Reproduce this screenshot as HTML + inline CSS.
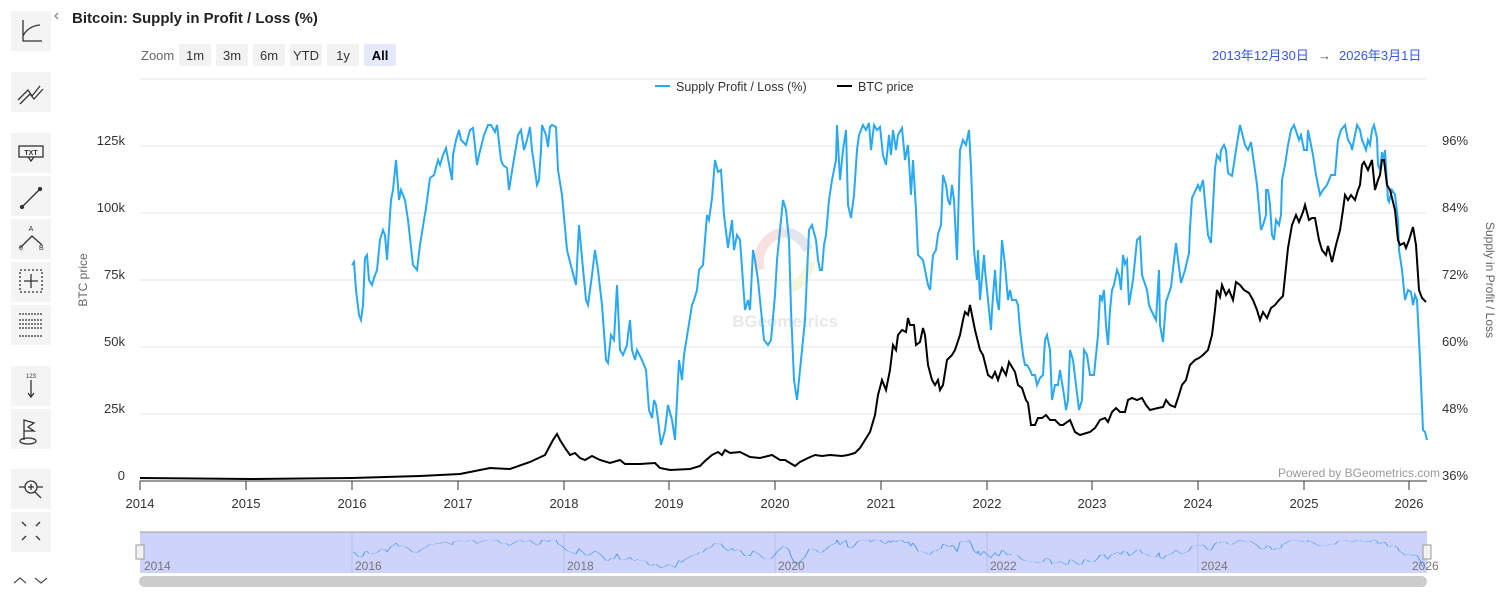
<!DOCTYPE html>
<html><head><meta charset="utf-8"><style>
body{margin:0;background:#fff;font-family:"Liberation Sans","Noto Sans CJK SC",sans-serif;}
svg{display:block}
</style></head><body>
<svg width="1509" height="593" xmlns="http://www.w3.org/2000/svg" font-family="Liberation Sans, Noto Sans CJK SC, sans-serif">
<rect width="1509" height="593" fill="#fff"/>
<g fill="#f4f4f4">
<rect x="11" y="11" width="40" height="40"/><rect x="11" y="72" width="40" height="40"/>
<rect x="11" y="133" width="40" height="40"/><rect x="11" y="176" width="40" height="40"/>
<rect x="11" y="219" width="40" height="40"/><rect x="11" y="262" width="40" height="40"/>
<rect x="11" y="305" width="40" height="40"/><rect x="11" y="366" width="40" height="40"/>
<rect x="11" y="409" width="40" height="40"/><rect x="11" y="469" width="40" height="40"/>
<rect x="11" y="512" width="40" height="40"/>
</g>
<g stroke="#333" fill="none" stroke-width="1.3">
<path d="M23 20 V41 H42 M23 36 Q28 26 40 25"/>
<path d="M18 100 L28 90 L32 96 L40 86 M20 104 L30 94 L34 99 L43 89"/>
<rect x="19" y="146" width="24" height="11"/><path d="M28 157 L31 161 L34 157"/>
<path d="M22 207 L40 189"/><circle cx="22" cy="207" r="1.5" fill="#333"/><circle cx="40" cy="189" r="1.5" fill="#333"/>
<path d="M20 248 L32 236 L42 245"/>
<rect x="20" y="270" width="22" height="22" stroke-dasharray="2,2"/><path d="M31 274 V288 M24 281 H38"/>
<path d="M19 314 H43 M19 336 H43 M19 320 H43 M19 324 H43 M19 328 H43" stroke-dasharray="2,1"/>
<path d="M31 380 V396 M28 393 L31 397 L34 393"/>
<path d="M24 440 V420 L34 423 L28 427 L34 431 L24 431"/><ellipse cx="28" cy="441" rx="8" ry="3"/>
<circle cx="31" cy="487" r="6"/><path d="M28 487 H34 M31 484 V490 M35 492 L41 498 M19 487 H25 M37 487 H43"/>
<path d="M22 522 L26 526 M40 522 L36 526 M22 540 L26 536 M40 540 L36 536"/>
<path d="M14 583 L20 578 L26 583 M35 578 L41 583 L47 578" stroke="#555"/>
<path d="M58 13 L55 16 L58 19" stroke="#888"/>
</g>
<text x="25" y="155" font-size="7" font-weight="bold" fill="#333" text-anchor="middle" dx="6">TXT</text>
<text x="31" y="231" font-size="7" fill="#333" text-anchor="middle">A</text>
<text x="19" y="250" font-size="7" fill="#333">0</text><text x="39" y="250" font-size="7" fill="#333">B</text>
<text x="31" y="378" font-size="6" fill="#333" text-anchor="middle">123</text>
<text x="72" y="23" font-size="15" font-weight="bold" fill="#222">Bitcoin: Supply in Profit / Loss (%)</text>
<text x="141" y="60" font-size="13" fill="#666">Zoom</text>
<g fill="#f2f2f2"><rect x="179" y="44" width="32" height="22" rx="2"/><rect x="216" y="44" width="32" height="22" rx="2"/><rect x="253" y="44" width="32" height="22" rx="2"/><rect x="290" y="44" width="32" height="22" rx="2"/><rect x="327" y="44" width="32" height="22" rx="2"/></g>
<rect x="364" y="44" width="32" height="22" rx="2" fill="#e6e9fd"/>
<g font-size="13" fill="#333" text-anchor="middle"><text x="195" y="60">1m</text><text x="232" y="60">3m</text><text x="269" y="60">6m</text><text x="306" y="60">YTD</text><text x="343" y="60">1y</text><text x="380" y="60" font-weight="bold" fill="#000">All</text></g>
<text x="1212" y="60" font-size="13" fill="#3355ff">2013年12月30日</text>
<text x="1318" y="60" font-size="13" fill="#555">→</text>
<text x="1339" y="60" font-size="13" fill="#3355ff">2026年3月1日</text>
<line x1="140" y1="79" x2="1427" y2="79" stroke="#e3e3e3"/>
<line x1="655" y1="86" x2="670" y2="86" stroke="#29a8f5" stroke-width="2"/>
<text x="676" y="91" font-size="12.5" fill="#333">Supply Profit / Loss (%)</text>
<line x1="837" y1="86" x2="852" y2="86" stroke="#000" stroke-width="2"/>
<text x="858" y="91" font-size="12.5" fill="#333">BTC price</text>
<g stroke="#e6e6e6"><line x1="140" y1="146" x2="1427" y2="146"/><line x1="140" y1="213" x2="1427" y2="213"/><line x1="140" y1="280" x2="1427" y2="280"/><line x1="140" y1="347" x2="1427" y2="347"/><line x1="140" y1="414" x2="1427" y2="414"/></g>
<line x1="140" y1="481" x2="1427" y2="481" stroke="#333"/>
<g stroke="#333"><line x1="140" y1="481" x2="140" y2="490"/><line x1="246" y1="481" x2="246" y2="490"/><line x1="352" y1="481" x2="352" y2="490"/><line x1="458" y1="481" x2="458" y2="490"/><line x1="564" y1="481" x2="564" y2="490"/><line x1="669" y1="481" x2="669" y2="490"/><line x1="775" y1="481" x2="775" y2="490"/><line x1="881" y1="481" x2="881" y2="490"/><line x1="987" y1="481" x2="987" y2="490"/><line x1="1092" y1="481" x2="1092" y2="490"/><line x1="1198" y1="481" x2="1198" y2="490"/><line x1="1304" y1="481" x2="1304" y2="490"/><line x1="1409" y1="481" x2="1409" y2="490"/></g>
<g font-size="13" fill="#333" text-anchor="middle"><text x="140" y="508">2014</text><text x="246" y="508">2015</text><text x="352" y="508">2016</text><text x="458" y="508">2017</text><text x="564" y="508">2018</text><text x="669" y="508">2019</text><text x="775" y="508">2020</text><text x="881" y="508">2021</text><text x="987" y="508">2022</text><text x="1092" y="508">2023</text><text x="1198" y="508">2024</text><text x="1304" y="508">2025</text><text x="1409" y="508">2026</text></g>
<g font-size="13" fill="#333" text-anchor="end"><text x="125" y="145">125k</text><text x="125" y="212">100k</text><text x="125" y="279">75k</text><text x="125" y="346">50k</text><text x="125" y="413">25k</text><text x="125" y="480">0</text></g>
<g font-size="13" fill="#333"><text x="1442" y="145">96%</text><text x="1442" y="212">84%</text><text x="1442" y="279">72%</text><text x="1442" y="346">60%</text><text x="1442" y="413">48%</text><text x="1442" y="480">36%</text></g>
<text transform="translate(87,280) rotate(-90)" font-size="12" fill="#666" text-anchor="middle">BTC price</text>
<text transform="translate(1486,280) rotate(90)" font-size="12" fill="#666" text-anchor="middle">Supply in Profit / Loss</text>
<text x="1440" y="477" font-size="12" fill="#999" text-anchor="end">Powered by BGeometrics.com</text>
<path d="M760 270 A30 30 0 0 1 785 232" fill="none" stroke="#fbe0e0" stroke-width="10"/>
<path d="M785 232 A30 30 0 0 1 808 250" fill="none" stroke="#e4e4ee" stroke-width="10"/>
<path d="M810 262 A30 30 0 0 1 790 288" fill="none" stroke="#f4f6d8" stroke-width="10"/>
<text x="785" y="327" font-size="17" font-weight="bold" fill="#e8e8e8" text-anchor="middle">BGeometrics</text>
<defs>
<polyline id="blue" fill="none" points="352,265 354,262 356,290 359,315 361,320 363,305 365,258 367,255 369,280 372,285 374,278 377,270 380,240 383,230 385,235 387,260 391,200 393,190 396,160 399,200 401,190 405,200 408,220 413,265 417,270 420,245 424,220 426,208 430,178 434,175 438,160 440,165 443,155 446,148 452,180 453,155 456,140 459,130 461,140 466,145 470,130 473,128 477,165 479,155 484,135 488,125 491,125 495,132 497,125 501,160 503,165 507,168 509,190 513,165 518,135 521,130 524,150 527,140 530,127 532,150 537,185 539,180 541,150 542,125 546,135 548,147 550,127 552,125 556,127 558,170 562,195 567,250 570,262 576,285 579,225 582,258 586,300 588,305 592,275 595,250 598,270 602,305 606,360 608,363 611,335 614,340 617,285 620,350 623,355 627,345 628,335 630,320 632,350 635,360 637,350 642,360 646,370 649,410 652,418 654,400 656,405 658,420 661,445 665,430 668,405 672,420 675,440 679,360 682,380 684,355 688,330 692,305 694,300 697,290 699,270 703,265 707,215 709,220 712,198 715,160 718,172 721,170 724,215 728,248 732,220 734,250 737,235 740,240 745,310 748,300 750,310 753,250 755,260 758,280 760,300 764,340 768,345 771,340 775,295 777,260 780,230 783,200 786,210 789,240 791,310 794,380 797,400 800,370 803,340 805,320 809,230 812,225 816,240 818,260 820,270 822,270 824,245 826,235 829,200 832,180 836,160 837,125 840,180 843,150 846,130 848,205 851,218 854,195 857,150 859,135 863,125 866,130 869,123 871,150 874,125 877,130 880,127 883,155 886,165 889,135 891,155 893,130 896,150 898,135 902,128 905,160 908,145 911,195 913,160 916,210 918,255 923,260 925,270 928,285 930,290 933,255 936,250 938,234 941,225 943,175 946,185 948,200 950,205 952,185 954,200 957,260 960,150 963,140 966,145 969,130 971,168 974,250 977,280 978,250 980,300 984,255 985,270 989,310 991,330 992,310 995,270 997,300 999,310 1002,240 1005,265 1008,300 1010,290 1012,300 1016,300 1018,305 1020,330 1023,355 1025,365 1027,365 1030,370 1032,375 1035,375 1037,385 1040,378 1043,375 1045,340 1047,335 1050,350 1052,400 1055,385 1058,385 1060,370 1064,395 1066,410 1068,400 1070,350 1073,360 1076,385 1079,410 1082,400 1084,350 1087,355 1090,375 1094,375 1098,335 1100,295 1102,300 1104,290 1106,325 1108,345 1110,310 1112,290 1114,285 1117,270 1119,275 1121,290 1123,255 1125,264 1127,260 1129,305 1133,280 1137,240 1140,237 1142,275 1147,290 1149,305 1151,310 1156,320 1159,270 1160,325 1163,342 1166,302 1171,287 1176,243 1181,283 1185,270 1189,253 1190,228 1192,198 1198,185 1200,190 1203,180 1208,235 1211,243 1215,168 1217,155 1220,160 1221,150 1224,145 1226,150 1228,173 1232,176 1233,170 1236,150 1240,125 1245,145 1248,150 1251,142 1257,185 1261,230 1263,225 1266,215 1266,190 1268,190 1270,205 1272,235 1274,240 1276,220 1279,225 1281,215 1282,180 1285,165 1288,145 1291,130 1294,125 1299,140 1301,135 1304,150 1307,150 1308,130 1310,140 1313,155 1316,175 1320,195 1323,190 1327,185 1331,175 1335,175 1338,140 1341,130 1345,125 1348,140 1351,145 1352,150 1355,135 1357,125 1360,130 1362,140 1363,142 1366,150 1368,140 1370,145 1372,130 1374,125 1377,138 1378,165 1380,170 1382,152 1384,160 1385,150 1388,200 1389,202 1392,190 1395,195 1398,220 1399,250 1402,270 1405,300 1408,290 1411,292 1413,305 1415,295 1417,300 1420,360 1423,430 1425,432 1427,440"/>
</defs>
<use href="#blue" stroke="#29a8f5" stroke-width="2"/>
<polyline fill="none" stroke="#000" stroke-width="2" points="140,478 250,479 352,478 420,476 460,474 490,468 510,469 530,462 545,455 553,440 557,434 560,440 565,448 570,455 575,453 580,458 585,460 592,456 600,460 610,463 620,460 625,464 640,464 655,463 660,468 670,470 690,469 700,466 705,461 712,455 718,452 722,455 725,450 730,453 740,452 750,457 760,458 772,455 780,460 785,460 795,466 800,462 808,458 815,455 822,456 830,455 842,456 848,455 855,453 860,448 865,440 870,432 875,415 878,395 882,380 886,390 890,370 893,345 896,350 898,335 902,330 906,332 908,318 910,325 914,325 916,345 920,342 923,328 925,335 928,365 932,380 935,385 938,380 940,390 943,385 947,360 952,355 955,350 960,335 963,320 965,312 968,315 970,305 973,320 975,330 980,350 983,355 988,375 992,378 995,372 998,380 1002,368 1006,375 1009,362 1015,372 1018,385 1022,388 1026,400 1028,403 1031,425 1035,425 1038,418 1042,418 1046,415 1050,420 1055,420 1060,425 1063,425 1070,420 1075,432 1080,435 1090,432 1095,428 1100,420 1105,418 1108,422 1112,412 1116,408 1120,412 1125,412 1128,400 1132,398 1137,400 1142,398 1146,405 1150,410 1158,408 1163,407 1166,400 1170,405 1175,407 1178,398 1182,385 1186,380 1190,365 1195,360 1199,358 1203,355 1208,350 1212,335 1215,310 1217,290 1220,297 1222,285 1226,295 1229,290 1233,300 1236,282 1240,285 1244,290 1249,293 1253,300 1257,310 1260,320 1263,312 1267,318 1271,308 1275,305 1279,300 1283,296 1288,248 1292,225 1296,215 1299,222 1303,212 1305,205 1309,220 1312,218 1315,218 1319,240 1322,250 1326,255 1328,246 1332,262 1336,245 1340,230 1343,210 1345,195 1348,200 1351,195 1355,200 1358,190 1360,185 1362,165 1364,162 1368,170 1372,160 1375,190 1378,180 1380,175 1382,160 1384,160 1387,185 1390,190 1392,198 1395,210 1398,240 1400,245 1404,243 1406,248 1409,240 1413,227 1416,245 1418,275 1419,290 1422,298 1426,302"/>
<rect x="140" y="532" width="1287" height="41" fill="#cdd3fb"/>
<line x1="140" y1="532" x2="1427" y2="532" stroke="#999"/>
<g stroke="#b8c0ee"><line x1="352" y1="532" x2="352" y2="573"/><line x1="564" y1="532" x2="564" y2="573"/><line x1="775" y1="532" x2="775" y2="573"/><line x1="987" y1="532" x2="987" y2="573"/><line x1="1198" y1="532" x2="1198" y2="573"/></g>
<g transform="translate(0,529) scale(1,0.0875)"><use href="#blue" stroke="#3a9af0" stroke-width="1" vector-effect="non-scaling-stroke"/></g>
<g font-size="12" fill="#777"><text x="144" y="570">2014</text><text x="355" y="570">2016</text><text x="567" y="570">2018</text><text x="778" y="570">2020</text><text x="990" y="570">2022</text><text x="1201" y="570">2024</text><text x="1412" y="570">2026</text></g>
<rect x="136" y="545" width="8" height="14" fill="#f2f2f2" stroke="#999"/>
<rect x="1423" y="545" width="8" height="14" fill="#f2f2f2" stroke="#999"/>
<rect x="139" y="576" width="1288" height="11" rx="5.5" fill="#cccccc"/>
</svg>
</body></html>
